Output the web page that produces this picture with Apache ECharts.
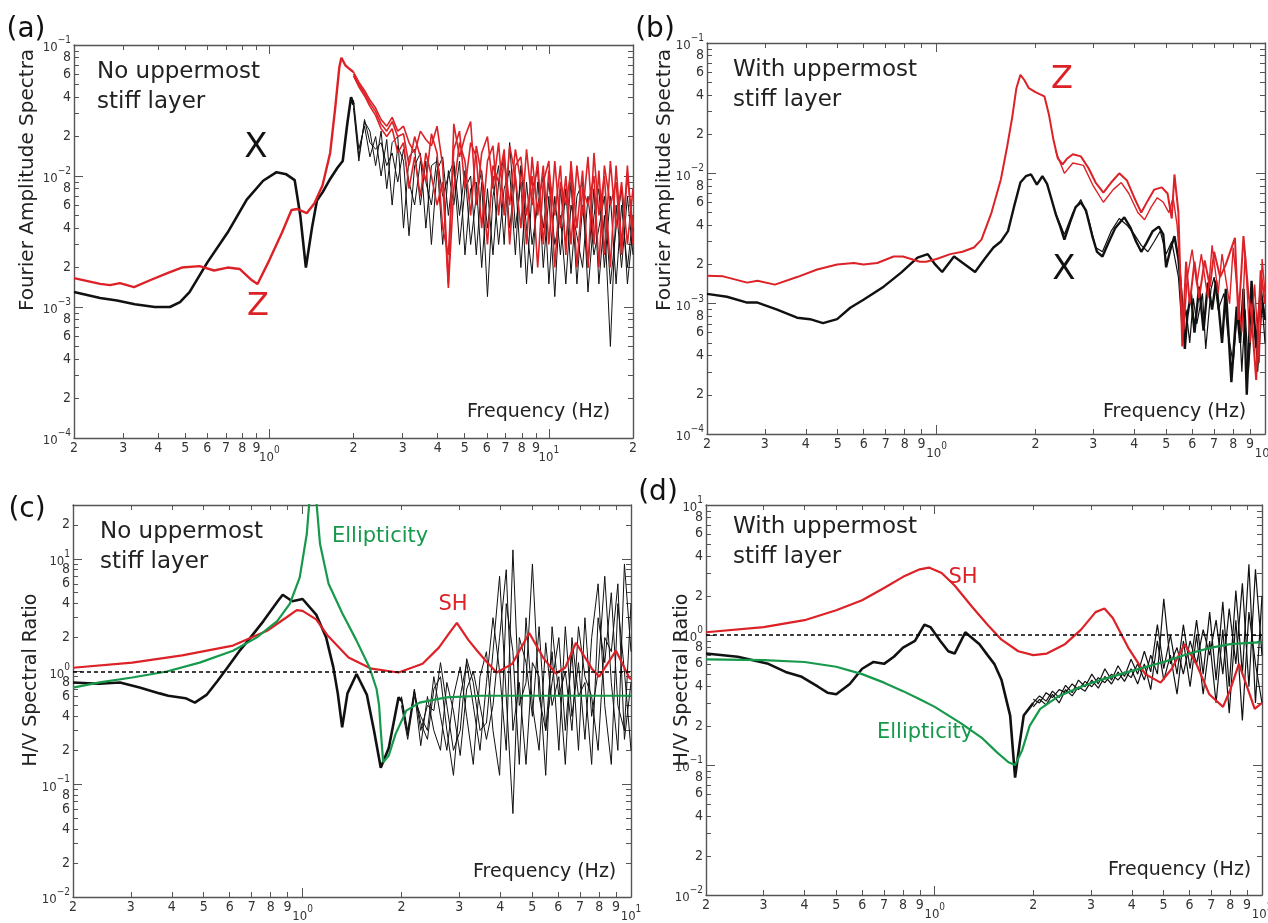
<!DOCTYPE html>
<html>
<head>
<meta charset="utf-8">
<script src="https://cdn.jsdelivr.net/npm/echarts@6/dist/echarts.min.js"></script>
<style>
html,body{margin:0;padding:0;background:#fff}
#chart{width:1268px;height:923px}
</style>
</head>
<body>
<div id="chart"></div>
<script>
// shared frequency grid (Hz) for the noisy high-frequency traces
var gridF = [2.00,2.09,2.19,2.29,2.40,2.51,2.63,2.75,2.88,3.02,3.16,3.31,3.47,3.63,3.80,3.98,4.17,4.37,4.57,4.79,
  5.01,5.25,5.50,5.75,6.03,6.31,6.61,6.92,7.24,7.59,7.94,8.32,8.71,9.12,9.55,10.0,10.5,11.0,11.5,12.0,
  12.6,13.2,13.8,14.5,15.1,15.8,16.6,17.4,18.2,19.1,20.0];

// ---- (a) no stiff layer : Fourier amplitude, values x 1e-3 ----
var aX = [[0.2,1.30],[0.248,1.17],[0.285,1.12],[0.33,1.05],[0.389,1.0],[0.441,1.0],[0.479,1.09],[0.518,1.3],
  [0.601,2.2],[0.709,3.7],[0.83,6.6],[0.95,9.2],[1.061,10.7],[1.15,10.3],[1.232,9.3],[1.29,5],[1.351,2.0],
  [1.42,4.0],[1.48,6.5],[1.55,7.5],[1.65,9.5],[1.75,11.5],[1.83,13],[1.9,25],[1.96,40],[2.0,35]];
var aZ = [[0.2,1.66],[0.248,1.5],[0.269,1.47],[0.292,1.52],[0.328,1.42],[0.374,1.6],[0.434,1.82],[0.486,2.0],
  [0.563,2.05],[0.634,1.9],[0.709,2.0],[0.784,1.95],[0.866,1.6],[0.907,1.5],[1.0,2.28],[1.11,3.7],[1.2,5.5],
  [1.26,5.6],[1.36,5.2],[1.45,6.2],[1.55,8.5],[1.65,15],[1.72,33],[1.78,68],[1.81,80],[1.87,70],[1.93,66],[2.0,62]];
var aBlk1 = [35,14,26,22,12,22,8,18,20,4,14,16,6,13,3,11,14,5,12,3,8,10,2.5,9,1.2,7,12,3,18,4,9,1.5,8,11,2,7,1.2,8,3,9,1.5,6,2,8,1.5,5,0.5,6,2,7,2.5];
var aBlk2 = [38,16,24,14,20,10,19,6,17,13,3.5,12,15,4,12,13,3,11,6,13,2.5,8,9,2,8,2.5,9,14,4,10,2,9,3,6,10,1.5,7,2.5,8,1.8,7,9,1.3,5,8,2,7,1.5,6,2,5];
var aBlk3 = [33,13,27,18,16,18,12,15,9,16,9,6,13,9,6,14,7,10,13,5,11,3,7,11,4,10,3,8,11,2.5,12,4,1.8,9,4,9,3,5,1.5,6,3.5,2,7,2.5,4,7,1.5,4,8,1.5,4];
var aRed1 = [62,52,45,38,33,27,24,28,22,24,18,15,22,19,17,24,12,1.5,25,14,20,26,6,15,20,8,18,5,17,10,4,16,6,13,3,11,5,12,2.5,13,4,11,2,15,5,10,2,12,3,10,4];
var aRed2 = [60,50,43,36,31,25,22,26,20,21,12,20,14,9,21,15,4,2.5,16,22,8,18,14,4,13,17,5,14,6,16,9,3,14,5,12,3,13,4,10,3,12,5,14,3,11,2.5,13,4,9,3,8];
var aRed3 = [58,48,41,34,29,23,20,23,15,18,8,14,7,15,10,6,9,1.4,8,18,13,5,17,10,3,12,9,16,3,12,14,5,10,2,9,13,2,9,6,11,2,8,6,10,2,12,6,9,2.5,12,3];

// ---- (b) with stiff layer : Fourier amplitude, values x 1e-3 ----
var bX = [[0.2,1.19],[0.23,1.13],[0.265,1.02],[0.285,1.02],[0.327,0.90],[0.376,0.78],[0.412,0.76],[0.451,0.71],
  [0.498,0.76],[0.546,0.93],[0.599,1.07],[0.69,1.35],[0.78,1.73],[0.875,2.26],[0.94,2.4],[0.99,2.0],[1.04,1.75],
  [1.13,2.3],[1.22,2.0],[1.31,1.75],[1.40,2.2],[1.49,2.7],[1.57,3.0],[1.65,3.6],[1.72,5.5],[1.80,8.5],[1.87,9.5],
  [1.94,9.8],[2.02,8.2],[2.10,9.5],[2.17,8.3],[2.24,6.3],[2.31,4.8],[2.38,3.9],[2.45,3.1],[2.55,4.2],[2.65,5.5],
  [2.75,6.0],[2.85,5.2],[2.98,3.3],[3.08,2.5],[3.2,2.3],[3.35,3.0],[3.5,3.8],[3.73,4.6],[3.9,3.8],[4.05,3.0],
  [4.2,2.5],[4.35,2.9],[4.55,3.6],[4.75,3.9],[4.9,3.4],[5.0,1.9],[5.15,2.6],[5.3,3.3],[5.45,2.2],[5.6,1.0],
  [5.7,0.45],[5.8,0.8],[5.95,1.2],[6.1,0.6],[6.3,1.35],[6.5,0.62],[6.7,1.45],[6.9,0.9],[7.1,1.5],[7.4,0.5],
  [7.6,1.3],[7.9,0.25],[8.2,0.95],[8.4,0.5],[8.6,1.3],[8.8,0.2],[9.1,1.5],[9.4,0.46],[9.7,1.3],[10,0.75]];
var bX2 = [[2.3,5.0],[2.45,3.4],[2.6,5.0],[2.75,6.3],[2.9,4.5],[3.05,2.7],[3.2,2.5],[3.4,3.6],[3.6,4.5],[3.8,4.0],
  [4.0,3.4],[4.2,2.8],[4.4,2.5],[4.6,3.0],[4.8,3.6],[5.0,2.4],[5.2,3.0],[5.45,1.6],[5.6,0.6],[5.75,0.9],[5.9,0.5],
  [6.05,1.1],[6.2,0.7],[6.45,1.2],[6.6,0.45],[6.85,1.3],[7.0,1.6],[7.2,0.9],[7.5,1.2],[7.7,0.6],[8.0,0.35],
  [8.3,1.1],[8.5,0.3],[8.7,0.9],[8.9,0.3],[9.2,1.0],[9.5,0.3],[9.8,1.0],[10,0.5]];
var bZ = [[0.2,1.64],[0.224,1.62],[0.265,1.45],[0.285,1.5],[0.322,1.4],[0.376,1.6],[0.433,1.83],[0.498,2.0],
  [0.56,2.05],[0.599,2.0],[0.66,2.05],[0.74,2.3],[0.79,2.3],[0.89,2.1],[0.93,2.1],[1.0,2.2],[1.1,2.4],[1.2,2.5],
  [1.3,2.7],[1.37,3.1],[1.47,5.0],[1.57,9.0],[1.64,16],[1.70,27],[1.75,45],[1.80,57],[1.85,52],[1.91,45],[2.0,42],
  [2.13,39],[2.2,28],[2.27,18],[2.34,13],[2.42,11.7],[2.5,13],[2.6,14],[2.75,13.5],[2.9,11],[3.05,8.5],[3.22,7.1],
  [3.4,8.5],[3.6,10],[3.8,8.8],[4.0,6.5],[4.2,5.0],[4.4,6.2],[4.6,7.5],[4.85,7.8],[5.05,7.0],[5.2,4.5],[5.3,9.8],
  [5.45,5],[5.6,0.47],[5.75,2.1],[5.9,1.0],[6.1,2.1],[6.3,1.1],[6.55,2.15],[6.8,1.35],[7.0,2.5],[7.3,1.6],[7.6,2.0],
  [8.1,3.2],[8.3,0.75],[8.6,3.3],[8.9,1.2],[9.1,0.8],[9.4,0.26],[9.7,1.8],[10,1.0]];
var bZ2 = [[2.3,15],[2.45,10],[2.6,12],[2.8,11.5],[3.0,8],[3.22,6.0],[3.45,7.5],[3.65,8.5],[3.85,7.0],[4.1,5.0],
  [4.3,4.4],[4.5,5.5],[4.7,6.5],[4.9,6.0],[5.1,5.0],[5.25,6.5],[5.4,4.0],[5.55,1.5],[5.65,0.6],[5.8,1.6],[6.0,2.6],
  [6.2,1.4],[6.4,2.4],[6.7,1.1],[6.9,2.8],[7.2,1.2],[7.4,2.4],[7.8,1.0],[8.0,2.7],[8.2,1.4],[8.5,0.6],[8.7,2.5],
  [9.0,0.5],[9.3,1.4],[9.6,0.35],[9.8,2.2],[10,1.2]];

// ---- (c) no stiff layer : H/V ratio ----
var cHV = [[0.2,0.80],[0.24,0.78],[0.278,0.80],[0.319,0.72],[0.367,0.64],[0.39,0.61],[0.44,0.58],[0.47,0.53],
  [0.51,0.62],[0.55,0.82],[0.59,1.08],[0.64,1.5],[0.69,1.96],[0.76,2.8],[0.84,4.2],[0.87,4.8],[0.93,4.2],[1.0,4.4],
  [1.1,3.2],[1.18,2.0],[1.24,1.1],[1.28,0.64],[1.32,0.32],[1.37,0.64],[1.46,0.95],[1.57,0.62],[1.65,0.3],
  [1.73,0.14],[1.83,0.21],[1.96,0.59],[2.0,0.55]];
var cBlk1 = [0.55,0.28,0.66,0.35,0.25,0.7,0.9,0.3,0.12,0.6,1.2,0.5,0.2,0.8,3,1.0,0.2,12,0.5,0.8,9,0.6,0.3,1.5,0.2,2.5,0.4,1.2,0.25,2,6,0.5,0.15,4,1,0.2];
var cBlk2 = [0.6,0.3,0.7,0.3,0.5,0.45,1.2,0.5,0.2,0.3,1.3,0.8,0.3,0.35,1.5,7,0.6,0.055,2,1.2,0.4,2.5,0.3,0.8,2,0.3,1.5,0.2,3,0.4,1.0,7,0.8,0.2,9,1.5];
var cBlk3 = [0.5,0.25,0.6,0.4,0.3,0.9,0.4,0.2,0.6,1.1,0.4,0.15,0.9,1.5,0.3,0.12,4,1.5,0.15,3,0.5,0.2,1.8,0.5,0.9,0.15,2,0.6,0.8,0.15,3,1.2,5,0.5,0.3,4];
var cBlk4 = [0.58,0.27,0.68,0.22,0.6,0.3,0.2,0.8,0.45,0.18,0.7,1.0,0.5,0.25,0.5,2,8,0.3,0.8,0.15,1.2,0.9,0.12,2.5,0.6,1,0.3,2.5,0.9,0.6,0.2,2,1.5,6,0.25,0.8];
var cSH = [[0.2,1.08],[0.303,1.2],[0.43,1.39],[0.614,1.7],[0.78,2.3],[0.89,3.0],[0.96,3.5],[1.0,3.45],[1.1,2.9],
  [1.19,2.1],[1.38,1.33],[1.62,1.06],[1.96,0.98],[2.32,1.17],[2.6,1.63],[2.8,2.2],[2.95,2.7],[3.2,1.9],[3.4,1.53],
  [3.65,1.2],[3.9,0.98],[4.35,1.17],[4.9,2.2],[5.4,1.33],[5.9,0.96],[6.3,1.08],[6.8,1.8],[7.6,1.06],[8.0,0.9],
  [9.0,1.53],[9.9,0.87],[10,0.86]];
var cEll = [[0.2,0.72],[0.241,0.80],[0.303,0.885],[0.386,1.0],[0.486,1.2],[0.614,1.53],[0.724,2.0],[0.837,2.8],
  [0.915,4.0],[0.98,6.8],[1.03,16.6],[1.055,40],[1.075,80],[1.095,40],[1.13,13.6],[1.2,6.0],[1.32,3.3],[1.46,1.88],
  [1.6,1.08],[1.68,0.7],[1.71,0.5],[1.73,0.3],[1.76,0.157],[1.83,0.18],[1.92,0.28],[2.07,0.45],[2.27,0.53],
  [2.74,0.59],[3.5,0.61],[10,0.61]];

// ---- (d) with stiff layer : H/V ratio ----
var dHV = [[0.2,0.72],[0.25,0.68],[0.31,0.6],[0.35,0.52],[0.39,0.48],[0.44,0.4],[0.47,0.36],[0.5,0.35],[0.55,0.42],
  [0.6,0.55],[0.65,0.62],[0.7,0.6],[0.75,0.68],[0.8,0.8],[0.87,0.9],[0.93,1.2],[0.97,1.15],[1.04,0.9],[1.1,0.75],
  [1.15,0.72],[1.24,1.05],[1.3,0.95],[1.37,0.85],[1.45,0.7],[1.52,0.6],[1.6,0.45],[1.7,0.24],[1.76,0.08],
  [1.82,0.15],[1.87,0.24],[2.0,0.3]];
var dBlk1 = [0.32,0.3,0.36,0.33,0.38,0.36,0.42,0.38,0.44,0.4,0.47,0.43,0.5,0.45,0.52,0.47,0.6,0.45,0.7,0.5,1.9,0.6,0.8,0.5,0.9,0.6,1.1,0.7,1.3,0.5,1.6,0.6,2.5,0.4,3.2,0.7];
var dBlk2 = [0.3,0.34,0.31,0.37,0.33,0.41,0.36,0.45,0.4,0.5,0.42,0.55,0.45,0.58,0.48,0.65,0.5,0.75,0.52,1.2,0.55,1.0,0.5,1.2,0.55,1.3,0.5,1.5,0.45,1.8,0.4,2.2,0.5,3.5,0.3,2.0];
var dBlk3 = [0.28,0.32,0.29,0.35,0.3,0.38,0.34,0.4,0.37,0.45,0.39,0.48,0.42,0.52,0.44,0.55,0.42,0.6,0.38,0.9,0.45,0.7,0.35,0.9,0.4,1.0,0.35,0.9,0.3,1.1,0.25,1.3,0.22,1.5,0.6,0.3];
var dSH = [[0.2,1.05],[0.3,1.15],[0.4,1.3],[0.5,1.55],[0.6,1.85],[0.7,2.3],[0.8,2.8],[0.9,3.2],[0.96,3.3],[1.05,3.0],
  [1.15,2.4],[1.3,1.65],[1.45,1.2],[1.6,0.92],[1.8,0.75],[2.0,0.7],[2.2,0.72],[2.5,0.85],[2.8,1.1],[3.1,1.5],
  [3.3,1.6],[3.5,1.35],[3.9,0.8],[4.4,0.5],[4.9,0.43],[5.3,0.55],[5.8,0.85],[6.3,0.6],[6.9,0.35],[7.6,0.28],
  [8.0,0.38],[8.5,0.6],[9.0,0.4],[9.5,0.27],[10,0.3]];
var dEll = [[0.2,0.65],[0.3,0.64],[0.4,0.62],[0.5,0.57],[0.6,0.5],[0.7,0.43],[0.8,0.37],[0.9,0.32],[1.0,0.28],
  [1.2,0.21],[1.4,0.16],[1.55,0.125],[1.68,0.105],[1.76,0.1],[1.85,0.13],[1.95,0.2],[2.1,0.27],[2.4,0.34],
  [2.8,0.4],[3.2,0.45],[4,0.53],[5,0.62],[6,0.72],[7,0.8],[8,0.85],[10,0.88]];

// tick mantissas
var tickMant = [1,2,3,4,5,6,7,8,9];
var xDigitMant = [2,3,4,5,6,7,8,9];
var yDigitMant = [2,4,6,8];

var RED = '#dc2127', GREEN = '#16994b', BLACK = '#111';
var TICK_FONT = '"Liberation Sans Narrow","DejaVu Sans Condensed",sans-serif';
var TEXT_FONT = '"DejaVu Sans",sans-serif';
var AXIS_COLOR = '#555';

var lg = Math.log10;
function toXY(pairs, scale) {
    return pairs.map(function (p) { return [lg(p[0]), lg(p[1] * scale)]; });
}
function onGrid(vals, scale) {
    return vals.map(function (v, i) { return [lg(gridF[i]), lg(v * scale)]; });
}
function logTicks(lo, hi, mants) {
    var out = [];
    for (var e = Math.floor(lg(lo)) - 1; e <= Math.ceil(lg(hi)); e++) {
        mants.forEach(function (m) {
            var v = lg(m) + e;
            if (v >= lg(lo) - 1e-9 && v <= lg(hi) + 1e-9) out.push(v);
        });
    }
    return out;
}
function tickText(v) {
    var e = Math.floor(v + 1e-6);
    var m = Math.round(Math.pow(10, v - e));
    if (m === 1) return '{b|10}{s|' + (e < 0 ? '\u2212' + (-e) : e) + '}';
    return '{d|' + m + '}';
}
var tickRich = {
    d: {fontSize: 14, lineHeight: 14, fontFamily: TICK_FONT, color: '#333'},
    b: {fontSize: 13, lineHeight: 19, verticalAlign: 'bottom', fontFamily: TICK_FONT, color: '#333'},
    s: {fontSize: 10, lineHeight: 11, verticalAlign: 'top', fontFamily: TICK_FONT, color: '#333'}
};

var panels = [
    {rect: [74, 45, 559, 393], x: [0.2, 20], y: [1e-4, 1e-1]},
    {rect: [707, 43, 558, 391], x: [0.2, 10], y: [1e-4, 1e-1]},
    {rect: [73, 505, 558, 392], x: [0.2, 10], y: [1e-2, 30]},
    {rect: [706, 505, 556, 390], x: [0.2, 10], y: [1e-2, 10]}
];

var option = {
    animation: false,
    backgroundColor: '#fff',
    grid: [], xAxis: [], yAxis: [], series: [], graphic: []
};

function labelCfg(values, margin) {
    return {show: true, customValues: values, formatter: tickText, rich: tickRich,
        margin: margin, color: '#333', showMinLabel: true, showMaxLabel: true, hideOverlap: false};
}

panels.forEach(function (p) {
    var lx = lg(p.x[0]), hx = lg(p.x[1]), ly = lg(p.y[0]), hy = lg(p.y[1]);
    for (var k = 0; k < 2; k++) {   // k=0 short ticks + digit labels + frame, k=1 long decade ticks + 10^n labels
        var gi = option.grid.length;
        option.grid.push({left: p.rect[0], top: p.rect[1], width: p.rect[2], height: p.rect[3],
            containLabel: false, outerBoundsMode: 'none'});
        var tx = logTicks(p.x[0], p.x[1], k ? [1] : tickMant);
        var ty = logTicks(p.y[0], p.y[1], k ? [1] : tickMant);
        var len = k ? 9 : 5;
        var xl = k ? labelCfg(logTicks(p.x[0], p.x[1], [1]), 7) : labelCfg(logTicks(p.x[0], p.x[1], xDigitMant), 3);
        var yl = k ? labelCfg(logTicks(p.y[0], p.y[1], [1]), 3) : labelCfg(logTicks(p.y[0], p.y[1], yDigitMant), 3);
        ['bottom', 'top'].forEach(function (pos) {
            option.xAxis.push({
                type: 'value', gridIndex: gi, position: pos, min: lx, max: hx,
                axisLine: {show: k === 0, onZero: false, lineStyle: {color: AXIS_COLOR, width: 1.4}},
                axisTick: {show: true, inside: true, length: len, customValues: tx,
                    lineStyle: {color: AXIS_COLOR, width: 1}},
                axisLabel: pos === 'bottom' ? xl : {show: false},
                splitLine: {show: false}
            });
        });
        ['left', 'right'].forEach(function (pos) {
            option.yAxis.push({
                type: 'value', gridIndex: gi, position: pos, min: ly, max: hy,
                axisLine: {show: k === 0, onZero: false, lineStyle: {color: AXIS_COLOR, width: 1.4}},
                axisTick: {show: true, inside: true, length: len, customValues: ty,
                    lineStyle: {color: AXIS_COLOR, width: 1}},
                axisLabel: pos === 'left' ? yl : {show: false},
                splitLine: {show: false}
            });
        });
    }
});

function addLine(panel, data, color, width) {
    option.series.push({
        type: 'line', xAxisIndex: panel * 4, yAxisIndex: panel * 4, data: data,
        showSymbol: false, symbol: 'none', clip: true, silent: true,
        lineStyle: {color: color, width: width}
    });
}

// (a)
addLine(0, toXY(aX, 1e-3), BLACK, 2.6);
addLine(0, onGrid(aBlk1, 1e-3), BLACK, 1);
addLine(0, onGrid(aBlk2, 1e-3), BLACK, 1);
addLine(0, onGrid(aBlk3, 1e-3), BLACK, 1);
addLine(0, toXY(aZ, 1e-3), RED, 2.4);
addLine(0, onGrid(aRed1, 1e-3), RED, 1.6);
addLine(0, onGrid(aRed2, 1e-3), RED, 1.6);
addLine(0, onGrid(aRed3, 1e-3), RED, 1.6);
// (b)
addLine(1, toXY(bX, 1e-3), BLACK, 2.4);
addLine(1, toXY(bX2, 1e-3), BLACK, 1.2);
addLine(1, toXY(bZ, 1e-3), RED, 2);
addLine(1, toXY(bZ2, 1e-3), RED, 1.4);
// (c)
addLine(2, toXY(cHV, 1), BLACK, 2.6);
addLine(2, onGrid(cBlk1, 1), BLACK, 1);
addLine(2, onGrid(cBlk2, 1), BLACK, 1);
addLine(2, onGrid(cBlk3, 1), BLACK, 1);
addLine(2, onGrid(cBlk4, 1), BLACK, 1);
addLine(2, toXY(cSH, 1), RED, 2.2);
addLine(2, toXY(cEll, 1), GREEN, 2.2);
// (d)
addLine(3, toXY(dHV, 1), BLACK, 2.6);
addLine(3, onGrid(dBlk1, 1), BLACK, 1.2);
addLine(3, onGrid(dBlk2, 1), BLACK, 1.2);
addLine(3, onGrid(dBlk3, 1), BLACK, 1.2);
addLine(3, toXY(dSH, 1), RED, 2.2);
addLine(3, toXY(dEll, 1), GREEN, 2.2);

// dashed unit line in the H/V panels
[2, 3].forEach(function (pi) {
    option.series.push({
        type: 'line', xAxisIndex: pi * 4, yAxisIndex: pi * 4, data: [], silent: true,
        markLine: {
            silent: true, symbol: ['none', 'none'], label: {show: false},
            lineStyle: {color: '#000', width: 1.6, type: [4, 3]},
            data: [{yAxis: 0}]
        }
    });
});

// annotations
function txt(x, y, s, size, color, align, vAlign, rot, lh) {
    option.graphic.push({
        type: 'text', x: x, y: y, rotation: rot || 0, silent: true,
        style: {text: s, fill: color, font: size + 'px ' + TEXT_FONT,
            align: align || 'left', verticalAlign: vAlign || 'middle', lineHeight: lh || size}
    });
}
txt(26, 30, '(a)', 28, '#111', 'center');
txt(655, 30, '(b)', 28, '#111', 'center');
txt(27, 510, '(c)', 28, '#111', 'center');
txt(658, 493, '(d)', 28, '#111', 'center');

txt(97, 57, 'No uppermost\nstiff layer', 23, '#222', 'left', 'top', 0, 30);
txt(733, 55, 'With uppermost\nstiff layer', 23, '#222', 'left', 'top', 0, 30);
txt(100, 517, 'No uppermost\nstiff layer', 23, '#222', 'left', 'top', 0, 30);
txt(733, 512, 'With uppermost\nstiff layer', 23, '#222', 'left', 'top', 0, 30);

txt(256, 148, 'X', 34, '#111', 'center');
txt(258, 307, 'Z', 32, RED, 'center');
txt(1062, 80, 'Z', 32, RED, 'center');
txt(1064, 270, 'X', 34, '#111', 'center');

txt(332, 537, 'Ellipticity', 21, GREEN, 'left');
txt(453, 605, 'SH', 21, RED, 'center');
txt(963, 578, 'SH', 21, RED, 'center');
txt(877, 733, 'Ellipticity', 21, GREEN, 'left');

txt(467, 412, 'Frequency (Hz)', 19, '#222', 'left');
txt(1103, 412, 'Frequency (Hz)', 19, '#222', 'left');
txt(473, 872, 'Frequency (Hz)', 19, '#222', 'left');
txt(1108, 870, 'Frequency (Hz)', 19, '#222', 'left');

txt(28, 180, 'Fourier Amplitude Spectra', 20, '#222', 'center', 'middle', Math.PI / 2);
txt(665, 180, 'Fourier Amplitude Spectra', 20, '#222', 'center', 'middle', Math.PI / 2);
txt(31, 680, 'H/V Spectral Ratio', 19, '#222', 'center', 'middle', Math.PI / 2);
txt(682, 680, 'H/V Spectral Ratio', 19, '#222', 'center', 'middle', Math.PI / 2);

var myChart = echarts.init(document.getElementById('chart'));
myChart.setOption(option);
</script>
</body>
</html>
